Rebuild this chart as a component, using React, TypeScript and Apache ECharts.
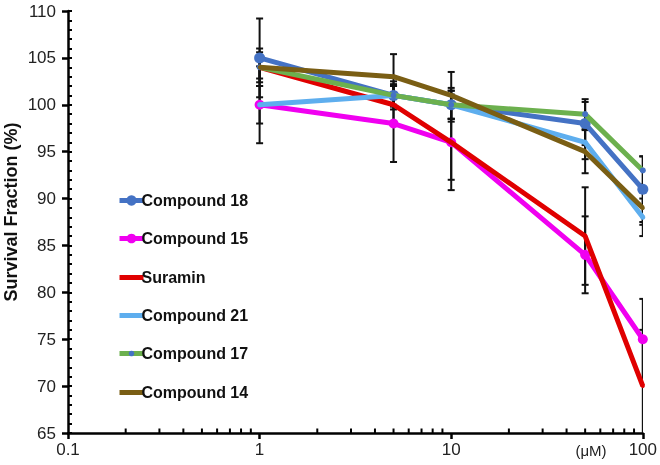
import React, { useEffect, useRef } from "react";
import * as echarts from "echarts";

const concentrations = [1, 5, 10, 50, 100];
const seriesNames = ["Compound 18", "Compound 15", "Suramin", "Compound 21", "Compound 17", "Compound 14"];
const compound18 = [105, 101, 100, 98, 91];
const compound15 = [100, 98, 96, 84, 75];
const suramin = [104, 100, 96, 86, 70];
const compound21 = [100, 101, 100, 96, 88];
const compound17 = [104, 101, 100, 99, 93];
const compound14 = [104, 103, 101, 95, 89];
const err18 = [4.2, 1.5, 1.5, 2.3, 3.5];
const err15 = [4.1, 4.1, 4.0, 4.1, 4.3];
const errSuramin = [1.6, 2.0, 5.1, 5.2, 6.0];
const err21 = [2.0, 1.0, 1.8, 1.8, 2.0];
const err17 = [1.2, 1.2, 1.5, 1.6, 1.5];
const err14 = [2.0, 2.4, 2.5, 2.3, 1.8];
const xTickLabels = ["0.1", "1", "10", "100"];
const xMinorTicks = [0.2, 0.3, 0.4, 0.5, 0.6, 0.7, 0.8, 0.9, 2, 3, 4, 5, 6, 7, 8, 9, 20, 30, 40, 50, 60, 70, 80, 90];

const values = [compound18, compound15, suramin, compound21, compound17, compound14];
const errors = [err18, err15, errSuramin, err21, err17, err14];
const colors = ["#4472C4", "#F000F0", "#E00000", "#5EAEEE", "#6CB04E", "#7A5E14"];
const symbolSizes = [11, 10, 4, 5, 6, 4];
const symbolColors = ["#4472C4", "#F000F0", "#E00000", "#5EAEEE", "#4472C4", "#7A5E14"];
const legendIconHeights = [13, 12, 4, 4, 7, 4];
const legendCenters = [200, 238, 277, 315, 353, 392];

export default function App() {
  const ref = useRef<HTMLDivElement>(null);
  useEffect(() => {
    if (!ref.current) return;
    const chart = echarts.init(ref.current, null, { renderer: "svg" });
    const errData: number[][] = [];
    values.forEach((vals, si) => {
      vals.forEach((v, i) => {
        errData.push([concentrations[i], v - errors[si][i], v + errors[si][i]]);
      });
    });
    const lineSeries = seriesNames.map((name, si) => ({
      name,
      type: "line",
      data: concentrations.map((c, i) => [c, values[si][i]]),
      symbol: "circle",
      symbolSize: symbolSizes[si],
      showSymbol: true,
      lineStyle: { color: colors[si], width: 5 },
      itemStyle: { color: symbolColors[si] },
      z: 3 + si,
    }));
    const legends = seriesNames.map((name, si) => ({
      data: [name],
      orient: "vertical",
      left: 117,
      top: legendCenters[si] - 7.5,
      padding: 0,
      itemWidth: 24,
      itemHeight: legendIconHeights[si],
      lineStyle: { width: 5, color: colors[si] },
      textStyle: {
        fontSize: 16,
        fontWeight: "bold",
        color: "#111",
        fontFamily: "Liberation Sans, Arial",
        padding: [0, 0, 0, -7],
      },
    }));
    chart.setOption({
      animation: false,
      grid: { left: 68, right: 16, top: 11, bottom: 32 },
      xAxis: [
        {
          type: "log",
          logBase: 10,
          min: 0.1,
          max: 100,
          axisLine: { lineStyle: { color: "#000", width: 2.5 } },
          axisTick: { show: true, length: 6, lineStyle: { color: "#000", width: 2.5 } },
          axisLabel: {
            color: "#222",
            fontSize: 17,
            fontFamily: "Liberation Sans, Arial",
            margin: 8,
            formatter: (v: number) => {
              const s = String(v);
              return xTickLabels.includes(s) ? s : "";
            },
          },
          splitLine: { show: false },
        },
      ],
      yAxis: [
        {
          type: "value",
          min: 65,
          max: 110,
          interval: 5,
          axisLine: { show: true, lineStyle: { color: "#000", width: 2.5 } },
          axisTick: { show: true, length: 6, lineStyle: { color: "#000", width: 2.5 } },
          axisLabel: { color: "#222", fontSize: 17, fontFamily: "Liberation Sans, Arial", margin: 12 },
          splitLine: { show: false },
        },
        {
          type: "value",
          min: 65,
          max: 110,
          interval: 1,
          position: "left",
          axisLine: { show: false },
          axisTick: { show: true, inside: true, length: 4, lineStyle: { color: "#000", width: 2 } },
          axisLabel: { show: false },
          splitLine: { show: false },
        },
      ],
      legend: legends,
      graphic: [
        {
          type: "text",
          x: 11,
          y: 212,
          rotation: Math.PI / 2,
          style: {
            text: "Survival Fraction (%)",
            fontSize: 18,
            fontWeight: "bold",
            fontFamily: "Liberation Sans, Arial",
            fill: "#111",
            textAlign: "center",
            textVerticalAlign: "middle",
          },
        },
        {
          type: "text",
          x: 591,
          y: 450,
          style: {
            text: "(μM)",
            fontSize: 15,
            fontFamily: "Liberation Sans, Arial",
            fill: "#222",
            textAlign: "center",
            textVerticalAlign: "middle",
          },
        },
      ],
      series: [
        {
          type: "custom",
          name: "errorbars",
          clip: true,
          z: 2,
          data: errData,
          renderItem: (params: any, api: any) => {
            const x = api.value(0);
            const lo = api.coord([x, api.value(1)]);
            const hi = api.coord([x, api.value(2)]);
            const cw = 3.5;
            const st = { stroke: "#111", lineWidth: 2 };
            return {
              type: "group",
              children: [
                { type: "line", shape: { x1: lo[0], y1: lo[1], x2: hi[0], y2: hi[1] }, style: st },
                { type: "line", shape: { x1: lo[0] - cw, y1: lo[1], x2: lo[0] + cw, y2: lo[1] }, style: st },
                { type: "line", shape: { x1: hi[0] - cw, y1: hi[1], x2: hi[0] + cw, y2: hi[1] }, style: st },
              ],
            };
          },
        },
        {
          type: "custom",
          name: "minorticks",
          clip: false,
          z: 2,
          data: xMinorTicks.map((t) => [t, 65]),
          renderItem: (params: any, api: any) => {
            const p = api.coord([api.value(0), api.value(1)]);
            return {
              type: "line",
              shape: { x1: p[0], y1: p[1], x2: p[0], y2: p[1] - 4.5 },
              style: { stroke: "#000", lineWidth: 2 },
            };
          },
        },
        ...lineSeries,
      ],
    });
    return () => chart.dispose();
  }, []);
  return <div ref={ref} style={{ position: "fixed", left: 0, top: 0, width: 660, height: 465 }} />;
}
